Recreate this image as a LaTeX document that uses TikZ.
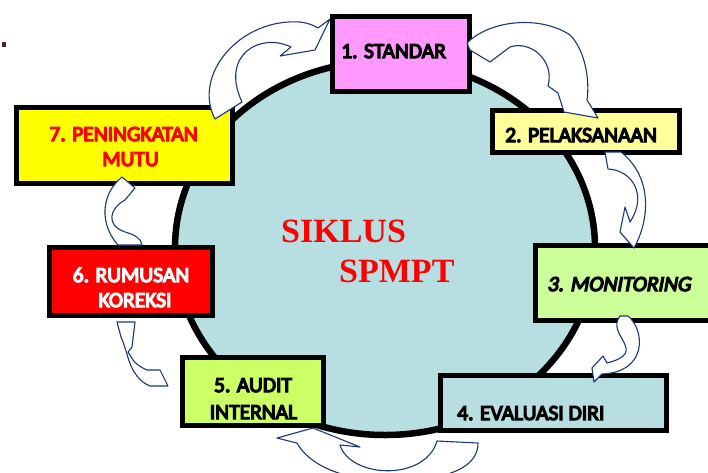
\documentclass[tikz,border=0pt]{standalone}
\usepackage{fontspec}
\setmainfont{Carlito}
\newfontfamily\cbf{Carlito}[FakeBold=6]
\newfontfamily\cbfi{Carlito}[FakeBold=6, FakeSlant=0.18]
\newfontfamily\timesf{Liberation Serif}
\usetikzlibrary{shapes.geometric}
\definecolor{circfill}{RGB}{183,222,224}
\definecolor{cpink}{RGB}{255,153,255}
\definecolor{cltyellow}{RGB}{255,255,153}
\definecolor{cltgreen}{RGB}{204,255,153}
\definecolor{cgreen}{RGB}{204,255,102}
\definecolor{cred}{RGB}{255,0,0}
\definecolor{cyellow}{RGB}{255,255,0}
\definecolor{navy}{RGB}{24,56,122}
\definecolor{dotc}{RGB}{75,37,37}
\begin{document}
\begin{tikzpicture}[x=1pt,y=-1pt,
  box/.style={draw=black, line width=5pt, inner sep=0pt},
  lbl/.style={font=\cbf\fontsize{21.5}{24}\selectfont, inner sep=0pt, anchor=base west},
  lblc/.style={font=\cbf\fontsize{21.5}{24}\selectfont, inner sep=0pt, anchor=base},
  arr/.style={draw=navy, fill=white, line width=1.1pt, line join=round},
  big/.style={font=\timesf\bfseries\fontsize{34}{40}\selectfont, text=cred, inner sep=0pt, anchor=base west}]
\useasboundingbox (0,0) rectangle (708,472);
\clip (0,0) rectangle (708,472);
\fill[white] (0,0) rectangle (708,472);
\fill[dotc] (2,42) rectangle (6,47);
% central circle
\node[ellipse, draw=black, line width=6.5pt, fill=circfill, minimum width=420pt, minimum height=374pt, inner sep=0pt] (cyc) at (385,248) {};
\node[big] (s1) at (281,242) {SIKLUS};
\node[big] (s2) at (339,282) {SPMPT};
% boxes
\node[box, fill=cpink, minimum width=137pt, minimum height=75pt] (b1) at (401,54) {};
\node[box, fill=cltyellow, minimum width=187pt, minimum height=42pt] (b2) at (586,131.5) {};
\node[box, fill=cltgreen, minimum width=177pt, minimum height=75pt] (b3) at (624,283) {};
\node[box, fill=circfill, minimum width=226pt, minimum height=55pt] (b4) at (553.5,403) {};
\node[box, fill=cgreen, minimum width=141pt, minimum height=68pt] (b5) at (253,391.5) {};
\node[box, fill=cred, minimum width=163pt, minimum height=68pt] (b6) at (131,281.5) {};
\node[box, fill=cyellow, minimum width=216pt, minimum height=76pt] (b7) at (124.5,145.5) {};
% labels
\node[lbl] (t1) at (341,58) {1. STANDAR};
\node[lbl] (t2) at (505,142) {2. PELAKSANAAN};
\node[lbl, font=\cbfi\fontsize{21.5}{24}\selectfont] (t3) at (547,291) {3. MONITORING};
\node[lbl] (t4) at (457,420) {4. EVALUASI DIRI};
\node[lblc] (t5a) at (253,392) {5. AUDIT};
\node[lblc] (t5b) at (253.5,419) {INTERNAL};
\node[lblc, text=white] (t6a) at (131,282) {6. RUMUSAN};
\node[lblc, text=white] (t6b) at (135,307) {KOREKSI};
\node[lblc, text=cred] (t7a) at (123.5,141) {7. PENINGKATAN};
\node[lblc, text=cred] (t7b) at (130.5,166) {MUTU};
% curved block arrows
% 7 -> 1
\draw[arr] (215,119) .. controls (192,75) and (240,18) .. (300,22)
  .. controls (308,23) and (313,25) .. (318,28) -- (330,19) -- (315,50) -- (280,56) -- (291,47)
  .. controls (260,32) and (220,55) .. (242,102) -- cycle;
% 1 -> 2
\draw[arr] (467,43) .. controls (490,20) and (540,15) .. (570,35)
  .. controls (585,50) and (590,80) .. (587,100) -- (598,118) -- (564,112) -- (558,93) -- (548,86)
  .. controls (555,60) and (530,40) .. (510,47) -- (490,62) -- (470,50) -- cycle;
% 2 -> 3
\draw[arr] (605,152) -- (608,169) .. controls (632,170) and (648,195) .. (630,222)
  -- (625,207) -- (620,232) -- (634,248) .. controls (652,215) and (650,175) .. (621,152) -- cycle;
% 3 -> 4
\draw[arr] (620,316) .. controls (605,335) and (650,352) .. (607,363) -- (603,356) -- (592,368)
  -- (594,382) -- (602,374) .. controls (648,372) and (645,330) .. (628,316) -- cycle;
% 4 -> 5
\draw[arr] (437,441) -- (478,443) .. controls (478,465) and (455,475) .. (420,480)
  .. controls (370,485) and (315,475) .. (297,443) -- (277,438) -- (313,428) -- (360,447) -- (340,445)
  .. controls (350,478) and (425,482) .. (437,441) -- cycle;
% 5 -> 6
\draw[arr] (117,322) -- (121,337) .. controls (127,350) and (128,365) .. (137,376)
  .. controls (141,381) and (145,384) .. (150,386) -- (168,386) -- (160,370) -- (147,370)
  .. controls (140,367) and (135,363) .. (133,360) -- (128,352) -- (132,347) -- (135,322) -- cycle;
% 6 -> 7
\draw[arr] (118,245) .. controls (100,225) and (100,195) .. (122,177) -- (135,188) -- (125,200)
  .. controls (110,208) and (105,225) .. (125,232) .. controls (135,235) and (141,238) .. (142,245) -- cycle;
\end{tikzpicture}
\end{document}
